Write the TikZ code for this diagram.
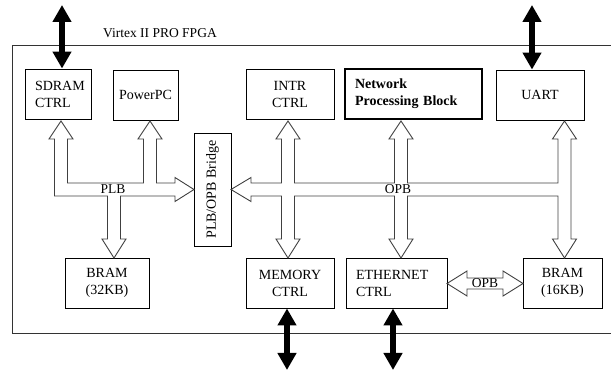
\documentclass[tikz,border=0pt]{standalone}
\usepackage{fontspec}
\setmainfont{Liberation Serif}
\usetikzlibrary{arrows.meta}

\begin{document}
\begin{tikzpicture}[x=1pt,y=-1pt,
  blk/.style={draw=black,line width=0.9pt,minimum height=50pt,inner sep=0pt,align=center,
    font=\fontsize{14}{17}\selectfont},
  bus/.style={draw=black!75,line width=0.9pt},
  io/.style={line width=6.5pt,{Triangle[width=18pt,length=17pt]}-{Triangle[width=18pt,length=17pt]}},
  lbl/.style={inner sep=0pt,font=\fontsize{13.5}{15}\selectfont}]

\useasboundingbox (0,0) rectangle (611,371);

% FPGA frame
\draw[black!80,line width=0.9pt] (613,45) -- (12,45) -- (12,333) -- (613,333);
\node[lbl,anchor=west] (fpga) at (103,33) {Virtex II PRO FPGA};

% top row
\node[blk,minimum width=66pt,text width=46pt,align=left] (sdram) at (58,94) {SDRAM\\CTRL};
\node[blk,minimum width=65pt] (ppc) at (145.5,95) {PowerPC};
\node[blk,minimum width=88pt] (intr) at (290,94) {INTR\\CTRL};
\node[blk,line width=2pt,minimum width=137pt,text width=117pt,align=left,font=\fontsize{14}{17}\selectfont\bfseries]
   (npb) at (413.5,94) {Network\\Processing Block};
\node[blk,minimum width=88pt] (uart) at (540,95) {UART};

% bottom row
\node[blk,minimum width=84pt] (bram32) at (107,283) {BRAM\\(32KB)};
\node[blk,minimum width=88pt] (memctrl) at (290,283) {MEMORY\\CTRL};
\node[blk,minimum width=101pt,text width=81pt,align=left] (eth) at (396.5,283) {ETHERNET\\CTRL};
\node[blk,minimum width=79pt] (bram16) at (562.5,283) {BRAM\\(16KB)};

% bridge
\node[blk,rotate=90,minimum width=113pt,minimum height=37pt] (bridge) at (212.5,189.5) {PLB/OPB Bridge};

% PLB bus
\draw[bus] (61,121) -- (73,139) -- (67.5,139) -- (67.5,183) -- (143.5,183) -- (143.5,139)
   -- (138,139) -- (150,121) -- (162,139) -- (156.5,139) -- (156.5,183) -- (175,183)
   -- (175,177.5) -- (194,189.5) -- (175,201.5) -- (175,196) -- (120.5,196) -- (120.5,239)
   -- (126,239) -- (114,258) -- (102,239) -- (107.5,239) -- (107.5,196) -- (54.5,196)
   -- (54.5,139) -- (49,139) -- cycle;
\node[lbl] (plb) at (113,189.5) {PLB};

% OPB bus
\draw[bus] (231,189.5) -- (251,177.5) -- (251,183) -- (281.5,183) -- (281.5,139) -- (276,139)
   -- (288,121) -- (300,139) -- (294.5,139) -- (294.5,183) -- (394.5,183) -- (394.5,139)
   -- (389,139) -- (401,121) -- (413,139) -- (407.5,139) -- (407.5,183) -- (558,183)
   -- (558,139) -- (552.5,139) -- (564.5,121) -- (576.5,139) -- (571,139) -- (571,239)
   -- (576.5,239) -- (564.5,258) -- (552.5,239) -- (558,239) -- (558,196) -- (407.5,196)
   -- (407.5,239) -- (413,239) -- (401,258) -- (389,239) -- (394.5,239) -- (394.5,196)
   -- (294.5,196) -- (294.5,239) -- (300,239) -- (288,258) -- (276,239) -- (281.5,239)
   -- (281.5,196) -- (251,196) -- (251,201.5) -- cycle;
\node[lbl] (opb) at (398,189.5) {OPB};

% ethernet <-> bram
\draw[bus] (447,283.5) -- (467,271) -- (467,278) -- (503,278) -- (503,271) -- (523,283.5)
   -- (503,296) -- (503,289) -- (467,289) -- (467,296) -- cycle;
\node[lbl] (opblink) at (485,283.5) {OPB};

% external I/O
\coordinate (sdramio) at (62,5);
\coordinate (uartio) at (532,5);
\coordinate (memio) at (287,370);
\coordinate (ethio) at (393,370);
\draw[io] (sdramio) -- ([xshift=4pt]sdram.north);
\draw[io] (uartio) -- ([xshift=-8pt]uart.north);
\draw[io] ([xshift=-3pt]memctrl.south) -- (memio);
\draw[io] ([xshift=-3.5pt]eth.south) -- (ethio);

\end{tikzpicture}
\end{document}
